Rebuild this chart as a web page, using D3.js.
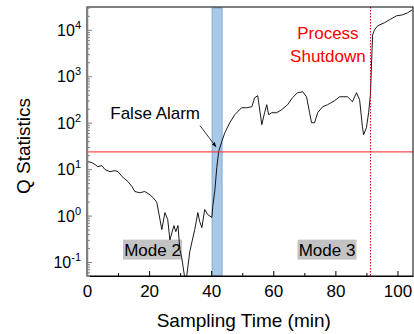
<!DOCTYPE html>
<html>
<head>
<meta charset="utf-8">
<script src="https://cdn.jsdelivr.net/npm/d3@7"></script>
<style>
  body { margin: 0; background: #fff; }
  svg { display: block; font-family: Arial, "Liberation Sans", sans-serif; }
</style>
</head>
<body>
<div id="chart"></div>
<script>
// sampling time (min) and Q statistic
const time = [0.3, 1.6, 2.6, 3.5, 4.8, 5.8, 7.4, 9.0, 10.0, 11.3,
  13.2, 14.5, 15.4, 17.0, 18.6, 20.3, 21.9, 22.5, 24.1, 25.1,
  26.0, 26.7, 28.0, 28.6, 29.3, 29.9, 30.5, 31.8, 33.1, 34.7,
  35.7, 36.3, 37.0, 37.9, 38.9, 40.2, 40.5, 41.2, 41.8, 42.4,
  43.4, 44.4, 46.0, 47.6, 49.8, 51.4, 53.1, 54.0, 55.0, 55.3,
  56.3, 57.2, 57.9, 58.5, 59.5, 61.1, 62.7, 64.6, 66.2, 67.8,
  69.5, 70.7, 71.7, 72.3, 73.3, 74.3, 75.9, 77.5, 79.7, 81.4,
  83.9, 85.5, 86.8, 87.8, 88.7, 89.1, 90.0, 90.7, 91.3, 91.6,
  92.0, 92.6, 93.6, 95.8, 97.4, 99.7, 101.6, 103.2, 104.8];
const qStat = [14.5, 13.8, 12.5, 11.3, 11.9, 9.8, 8.8, 9.3, 8.8, 6.9,
  5.4, 4.2, 3.3, 3.1, 3.3, 2.8, 2.2, 1.9, 0.5, 1.16,
  0.82, 0.30, 0.61, 0.45, 0.61, 0.186, 0.125, 0.033, 0.168, 0.50,
  1.16, 0.74, 0.55, 1.35, 1.05, 0.91, 1.56, 3.6, 10.8, 23.8,
  39, 61, 100, 149, 210, 210, 221, 345, 381, 269,
  91, 164, 244, 149, 164, 164, 190, 244, 345, 442,
  464, 362, 164, 100, 100, 164, 221, 244, 297, 362,
  362, 283, 442, 313, 82, 55, 78, 164, 400, 1600,
  7800, 10000, 12200, 14200, 16400, 20000, 21000, 23200, 26900];

const controlLimit = 23.5;
const shutdownTime = 91.3;
const alarmBand = [40.3, 43.5];

const xTicks = [0, 20, 40, 60, 80, 100];
const xMinorTicks = [10, 30, 50, 70, 90];
const yExponents = [-1, 0, 1, 2, 3, 4];

const modeLabels = [
  { text: 'Mode 2', t: 21.1, q: 0.185 },
  { text: 'Mode 3', t: 77.3, q: 0.185 }
];

const W = 414, H = 334;
const margin = { top: 7, right: 1, bottom: 58, left: 87 };
const width = W - margin.left - margin.right;
const height = H - margin.top - margin.bottom;

const svg = d3.select('#chart').append('svg')
  .attr('width', W)
  .attr('height', H);

const g = svg.append('g')
  .attr('transform', `translate(${margin.left},${margin.top})`);

const x = d3.scaleLinear().domain([0, 105]).range([0, width]);
const y = d3.scaleLog().domain([0.05, 31000]).range([height, 0]);

g.append('clipPath').attr('id', 'clip')
  .append('rect').attr('width', width).attr('height', height);

// false alarm band
g.append('rect')
  .attr('x', x(alarmBand[0]))
  .attr('y', 1)
  .attr('width', x(alarmBand[1]) - x(alarmBand[0]))
  .attr('height', height - 1)
  .attr('fill', '#a8c8e8')
  .attr('stroke', '#7fa8d4')
  .attr('stroke-width', 1);

// mode labels
modeLabels.forEach(m => {
  const lab = g.append('g')
    .attr('transform', `translate(${x(m.t)},${y(m.q)})`);
  lab.append('rect')
    .attr('x', -29.5).attr('y', -10)
    .attr('width', 59).attr('height', 20)
    .attr('fill', '#c3c3c3');
  lab.append('text')
    .attr('text-anchor', 'middle')
    .attr('dy', 6)
    .attr('font-size', 17)
    .attr('fill', '#000')
    .text(m.text);
});

// Q statistic line
const line = d3.line()
  .x((d, i) => x(time[i]))
  .y(d => y(d));

g.append('path')
  .datum(qStat)
  .attr('clip-path', 'url(#clip)')
  .attr('fill', 'none')
  .attr('stroke', '#000')
  .attr('stroke-width', 0.9)
  .attr('d', line);

// control limit
g.append('line')
  .attr('x1', 0).attr('x2', width)
  .attr('y1', y(controlLimit)).attr('y2', y(controlLimit))
  .attr('stroke', '#ff2020')
  .attr('stroke-width', 1);

// shutdown marker
g.append('line')
  .attr('x1', x(shutdownTime)).attr('x2', x(shutdownTime))
  .attr('y1', 0).attr('y2', height)
  .attr('stroke', '#e00000')
  .attr('stroke-width', 1)
  .attr('stroke-dasharray', '1.5,1.5');

const shut = g.append('text')
  .attr('text-anchor', 'middle')
  .attr('font-size', 17)
  .attr('fill', '#ff0000');
shut.append('tspan').attr('x', x(77.6)).attr('y', 32).text('Process');
shut.append('tspan').attr('x', x(77.6)).attr('y', 55).text('Shutdown');

// false alarm annotation
g.append('defs').append('marker')
  .attr('id', 'arrow')
  .attr('viewBox', '0 0 10 10')
  .attr('refX', 9).attr('refY', 5)
  .attr('markerWidth', 6).attr('markerHeight', 6)
  .attr('orient', 'auto')
  .append('path')
  .attr('d', 'M0,1L10,5L0,9Z')
  .attr('fill', '#000');

g.append('text')
  .attr('x', x(7.5))
  .attr('y', y(122))
  .attr('font-size', 17)
  .attr('fill', '#000')
  .text('False Alarm');

g.append('line')
  .attr('x1', x(36.4)).attr('y1', y(86.5))
  .attr('x2', x(41.5)).attr('y2', y(30.5))
  .attr('stroke', '#000')
  .attr('stroke-width', 0.8)
  .attr('marker-end', 'url(#arrow)');

// frame
g.append('rect')
  .attr('width', width).attr('height', height)
  .attr('fill', 'none')
  .attr('stroke', '#000')
  .attr('stroke-width', 1);

// x axis
const xAxisG = g.append('g')
  .attr('transform', `translate(0,${height})`)
  .call(d3.axisBottom(x).tickValues(xTicks).tickSize(-5).tickPadding(9).tickSizeOuter(0));
xAxisG.select('.domain').attr('stroke', '#000');
xAxisG.selectAll('text').attr('font-size', 17).attr('fill', '#000')
  .attr('font-family', 'Arial, "Liberation Sans", sans-serif');
g.append('g')
  .attr('transform', `translate(0,${height})`)
  .call(d3.axisBottom(x).tickValues(xMinorTicks).tickSize(-3).tickFormat(''))
  .select('.domain').remove();

// y axis
const minor = [];
yExponents.concat([-2]).forEach(e => {
  for (let k = 2; k <= 9; k++) {
    const v = k * Math.pow(10, e);
    if (v >= 0.05 && v <= 31000) minor.push(v);
  }
});
const yAxisG = g.append('g')
  .call(d3.axisLeft(y).tickValues(yExponents.map(e => Math.pow(10, e)))
    .tickSize(-5).tickFormat('').tickSizeOuter(0));
yAxisG.select('.domain').attr('stroke', '#808080').attr('stroke-width', 1.5);
yAxisG.selectAll('.tick line').attr('stroke', '#808080');
g.append('g')
  .call(d3.axisLeft(y).tickValues(minor).tickSize(-3).tickFormat(''))
  .call(a => a.select('.domain').remove())
  .selectAll('.tick line').attr('stroke', '#808080');

yExponents.forEach(e => {
  const t = g.append('text')
    .attr('x', -6)
    .attr('y', y(Math.pow(10, e)) + 6)
    .attr('text-anchor', 'end')
    .attr('font-size', 16)
    .attr('fill', '#000');
  t.append('tspan').text('10');
  t.append('tspan').attr('dy', -7).attr('font-size', 11).text(e);
});

// axis titles
svg.append('text')
  .attr('x', margin.left + x(50.5))
  .attr('y', 327)
  .attr('text-anchor', 'middle')
  .attr('font-size', 19)
  .attr('fill', '#000')
  .text('Sampling Time (min)');

svg.append('text')
  .attr('transform', `translate(30,146) rotate(-90)`)
  .attr('text-anchor', 'middle')
  .attr('font-size', 19)
  .attr('fill', '#000')
  .text('Q Statistics');
</script>
</body>
</html>
